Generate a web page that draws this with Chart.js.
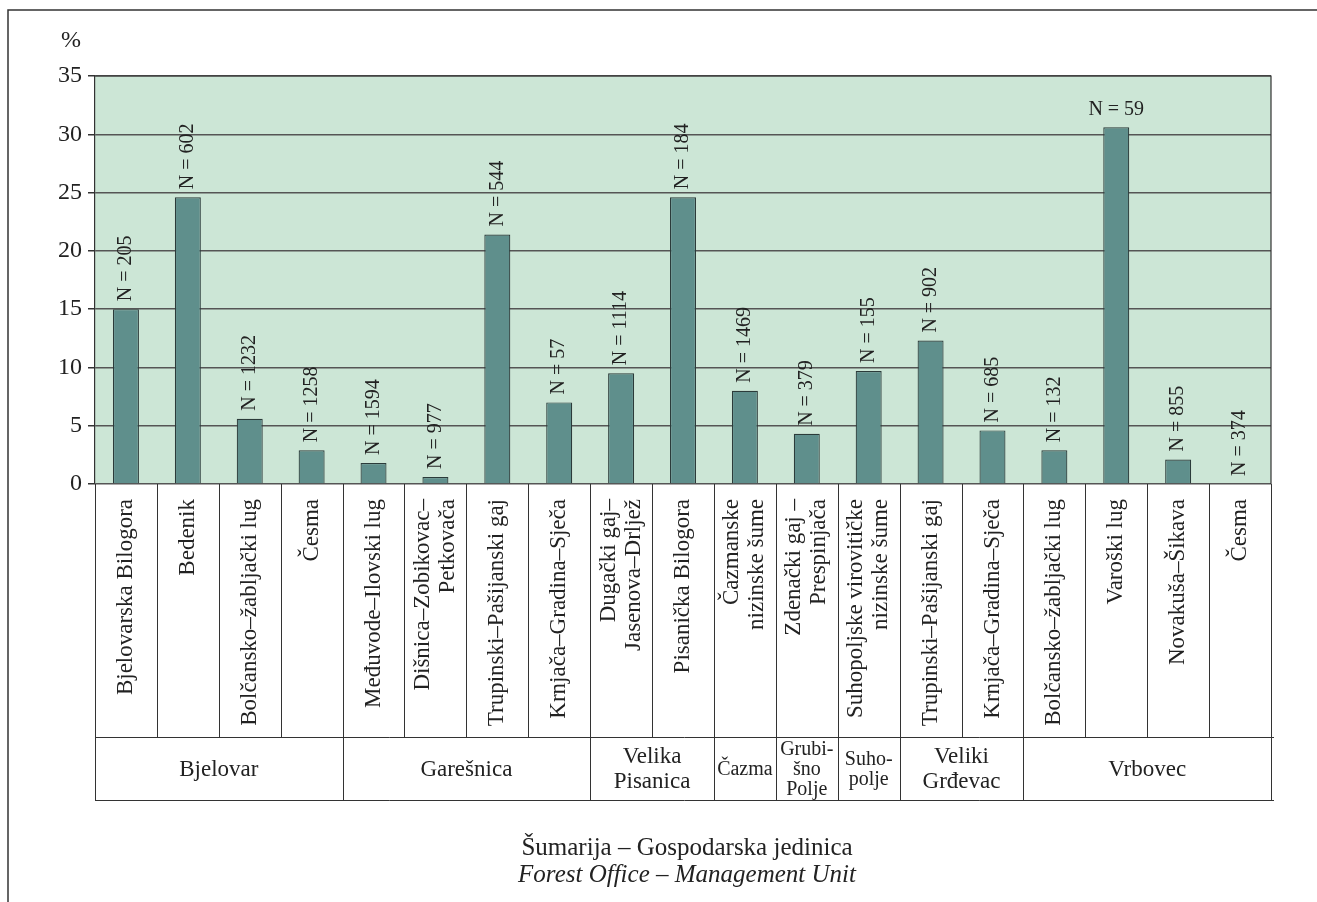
<!DOCTYPE html>
<html>
<head>
<meta charset="utf-8">
<script src="https://cdn.jsdelivr.net/npm/chart.js@4.4.1/dist/chart.umd.min.js"></script>
<style>
  html, body { margin: 0; padding: 0; background: #fff; }
  #wrap { width: 1317px; height: 902px; }
</style>
</head>
<body>
<div id="wrap"><canvas id="chart" width="1317" height="902"></canvas></div>
<script>
// gospodarske jedinice (one per bar)
const unitLabels = [
  ["Bjelovarska Bilogora"], ["Bedenik"], ["Bolčansko–žabljački lug"], ["Česma"],
  ["Međuvode–Ilovski lug"], ["Dišnica–Zobikovac–", "Petkovača"], ["Trupinski–Pašijanski gaj"], ["Krnjača–Gradina–Sječa"],
  ["Dugački gaj–", "Jasenova–Drljež"], ["Pisanička Bilogora"],
  ["Čazmanske", "nizinske šume"],
  ["Zdenački gaj –", "Prespinjača"],
  ["Suhopoljske virovitičke", "nizinske šume"],
  ["Trupinski–Pašijanski gaj"], ["Krnjača–Gradina–Sječa"],
  ["Bolčansko–žabljački lug"], ["Varoški lug"], ["Novakuša–Šikava"], ["Česma"]
];
const percentValues = [15.0, 24.6, 5.6, 2.9, 1.8, 0.6, 21.4, 7.0, 9.5, 24.6, 8.0, 4.3, 9.7, 12.3, 4.6, 2.9, 30.6, 2.1, 0];
const sampleSizes = [205, 602, 1232, 1258, 1594, 977, 544, 57, 1114, 184, 1469, 379, 155, 902, 685, 132, 59, 855, 374];

// šumarije (groups of units)
const officeLabels = [["Bjelovar"], ["Garešnica"], ["Velika", "Pisanica"], ["Čazma"], ["Grubi-", "šno", "Polje"], ["Suho-", "polje"], ["Veliki", "Grđevac"], ["Vrbovec"]];
const officeSpans = [4, 4, 2, 1, 1, 1, 2, 4];

const yTicks = [0, 5, 10, 15, 20, 25, 30, 35];
const axisUnit = "%";
const captionHr = "Šumarija – Gospodarska jedinica";
const captionEn = "Forest Office – Management Unit";

const SERIF = "'Liberation Serif', 'Times New Roman', serif";
const INK = "#222";
const ROW1 = 253;   // height of unit-name row
const ROW2 = 63;    // height of office row

const tablePlugin = {
  id: "tablePlugin",
  beforeDraw(chart){
    const { ctx, chartArea: a } = chart;
    ctx.save();
    ctx.fillStyle = "#fff";
    ctx.fillRect(0, 0, chart.width, chart.height);
    ctx.fillStyle = "#cce6d6";
    ctx.fillRect(a.left, a.top, a.right - a.left, a.bottom - a.top);
    // page frame
    ctx.strokeStyle = "#333";
    ctx.lineWidth = 1.5;
    ctx.beginPath();
    ctx.moveTo(8, chart.height); ctx.lineTo(8, 10); ctx.lineTo(chart.width, 10);
    ctx.stroke();
    ctx.restore();
  },
  afterDraw(chart){
    const { ctx, chartArea: a } = chart;
    const x = chart.scales.x;
    const n = unitLabels.length;
    const edge = (i) => i === 0 ? a.left : (i === n ? a.right : (x.getPixelForValue(i - 1) + x.getPixelForValue(i)) / 2);
    const y0 = a.bottom, y1 = a.bottom + ROW1, y2 = y1 + ROW2;

    ctx.save();
    // plot frame top + right
    ctx.strokeStyle = "#333";
    ctx.lineWidth = 1.2;
    ctx.beginPath();
    ctx.moveTo(a.left, a.top); ctx.lineTo(a.right, a.top); ctx.lineTo(a.right, a.bottom);
    ctx.stroke();

    // table lines
    ctx.lineWidth = 1;
    ctx.beginPath();
    for (let i = 0; i <= n; i++){
      const px = Math.round(edge(i)) + 0.5;
      ctx.moveTo(px, y0); ctx.lineTo(px, y1);
    }
    let acc = 0;
    for (let g = 0; g <= officeSpans.length; g++){
      const px = Math.round(edge(acc)) + 0.5;
      ctx.moveTo(px, y1); ctx.lineTo(px, y2);
      if (g < officeSpans.length) acc += officeSpans[g];
    }
    ctx.moveTo(a.left, y1 + 0.5); ctx.lineTo(a.right + 3, y1 + 0.5);
    ctx.moveTo(a.left, y2 + 0.5); ctx.lineTo(a.right + 3, y2 + 0.5);
    ctx.stroke();

    // unit names, rotated
    ctx.fillStyle = INK;
    ctx.font = "23px " + SERIF;
    ctx.textAlign = "right";
    ctx.textBaseline = "middle";
    unitLabels.forEach((lines, i) => {
      const cx = x.getPixelForValue(i);
      ctx.save();
      ctx.translate(cx, y0 + 15);
      ctx.rotate(-Math.PI / 2);
      lines.forEach((ln, k) => ctx.fillText(ln, 0, (k - (lines.length - 1) / 2) * 25));
      ctx.restore();
    });

    // office names
    ctx.textAlign = "center";
    acc = 0;
    officeLabels.forEach((lines, g) => {
      const cx = (edge(acc) + edge(acc + officeSpans[g])) / 2;
      acc += officeSpans[g];
      const small = officeSpans[g] === 1;
      const lh = small ? 20 : 25;
      ctx.font = (small ? "20px " : "23px ") + SERIF;
      const cy = (y1 + y2) / 2 + 1;
      lines.forEach((ln, k) => ctx.fillText(ln, cx, cy + (k - (lines.length - 1) / 2) * lh));
    });

    // axis unit
    ctx.font = "24px " + SERIF;
    ctx.fillText(axisUnit, 71, 41);

    // caption
    ctx.textBaseline = "alphabetic";
    ctx.font = "25px " + SERIF;
    ctx.fillText(captionHr, 687, 855);
    ctx.font = "italic 25px " + SERIF;
    ctx.fillText(captionEn, 687, 882);
    ctx.restore();
  },
  afterDatasetsDraw(chart){
    const { ctx } = chart;
    const meta = chart.getDatasetMeta(0);
    ctx.save();
    ctx.fillStyle = INK;
    ctx.font = "20px " + SERIF;
    ctx.textBaseline = "middle";
    meta.data.forEach((bar, i) => {
      const txt = "N = " + sampleSizes[i];
      if (percentValues[i] > 28){
        ctx.textAlign = "center";
        ctx.textBaseline = "alphabetic";
        ctx.fillText(txt, bar.x, bar.y - 12);
        ctx.textBaseline = "middle";
      } else {
        ctx.save();
        ctx.translate(bar.x, bar.y - 8);
        ctx.rotate(-Math.PI / 2);
        ctx.textAlign = "left";
        ctx.fillText(txt, 0, 0);
        ctx.restore();
      }
    });
    ctx.restore();
  }
};

new Chart(document.getElementById("chart"), {
  type: "bar",
  data: {
    labels: unitLabels.map(l => l.join(" ")),
    datasets: [{
      data: percentValues,
      backgroundColor: "#5f8f8c",
      borderColor: "#2b3b3a",
      borderWidth: 1.2,
      borderSkipped: "bottom",
      barPercentage: 0.42,
      categoryPercentage: 1
    }]
  },
  options: {
    responsive: false,
    animation: false,
    layout: { padding: { top: 76, right: 46, bottom: 418, left: 0 } },
    plugins: { legend: { display: false }, tooltip: { enabled: false } },
    scales: {
      x: { display: false },
      y: {
        min: 0, max: 35,
        afterFit(scale){ scale.width = 95; },
        afterBuildTicks(scale){ scale.ticks = yTicks.map(v => ({ value: v })); },
        ticks: { color: INK, font: { family: SERIF, size: 24 }, padding: 6 },
        grid: { color: "#555", lineWidth: 1.5, tickLength: 7, tickColor: "#333" },
        border: { color: "#333", width: 1.2 }
      }
    }
  },
  plugins: [tablePlugin]
});
</script>
</body>
</html>
